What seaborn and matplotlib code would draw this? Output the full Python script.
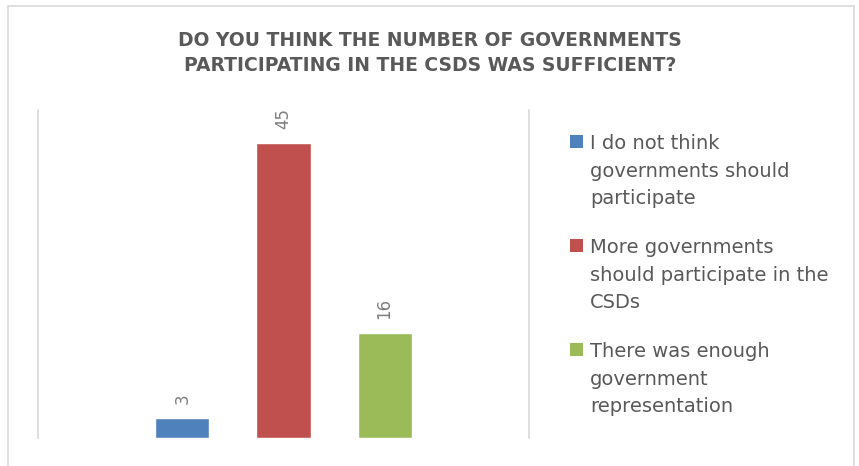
import matplotlib.pyplot as plt
import seaborn as sns
import pandas as pd
from matplotlib.patches import Rectangle

# ── Data ──────────────────────────────────────────────────────────────────────
TITLE = ("DO YOU THINK THE NUMBER OF GOVERNMENTS\n"
         "PARTICIPATING IN THE CSDS WAS SUFFICIENT?")
categories = [
    "I do not think governments should participate",
    "More governments should participate in the CSDs",
    "There was enough government representation",
]
legend_labels = [
    "I do not think\ngovernments should\nparticipate",
    "More governments\nshould participate in the\nCSDs",
    "There was enough\ngovernment\nrepresentation",
]
values = [3, 45, 16]
colors = ["#4F81BD", "#C0504D", "#9BBB59"]

TEXT_GREY = "#595959"
LINE_GREY = "#D9D9D9"

# ── Figure (pixel based layout) ───────────────────────────────────────────────
W, H = 859, 466
sns.set_style("white")
plt.rcParams["font.family"] = ["DejaVu Sans"]

fig = plt.figure(figsize=(W / 100, H / 100), dpi=100)


def fx(px):
    return px / W


def fy(py):
    return 1 - py / H


# outer chart border
fig.patches.append(Rectangle((fx(7.5), -0.05), fx(854 - 7.5), fy(5.5) + 0.05,
                             transform=fig.transFigure, fill=False,
                             edgecolor=LINE_GREY, linewidth=1.2))

ax = fig.add_axes([fx(38), fy(438), fx(529 - 38), (438 - 110) / H])

df = pd.DataFrame({"answer": categories, "count": values})
sns.barplot(data=df, x="answer", y="count", hue="answer", palette=colors,
            width=0.535, saturation=1, legend=False, ax=ax)

for container in ax.containers:
    ax.bar_label(container, padding=10, rotation=90, color="#7F7F7F", fontsize=12)

ax.set_xlim(-1.43, 3.43)
ax.set_ylim(0, 50)
ax.set_xticks([])
ax.set_yticks([])
ax.set_xlabel("")
ax.set_ylabel("")
for side in ("top", "bottom"):
    ax.spines[side].set_visible(False)
for side in ("left", "right"):
    ax.spines[side].set_color(LINE_GREY)
    ax.spines[side].set_linewidth(1.2)

# title
fig.text(fx(430), fy(31), TITLE, ha="center", va="top", fontsize=13.5,
         fontweight="bold", color=TEXT_GREY, linespacing=1.40)

# legend: square aligned with first text line, like the Excel original
for i, (label, color) in enumerate(zip(legend_labels, colors)):
    top = 135 + i * 104
    fig.patches.append(Rectangle((fx(570), fy(top + 13)), fx(13), 13 / H,
                                 transform=fig.transFigure, facecolor=color,
                                 edgecolor="none"))
    fig.text(fx(590), fy(top - 1), label, ha="left", va="top", fontsize=14,
             color=TEXT_GREY, linespacing=1.57)

fig.savefig("out.png", dpi=100)
